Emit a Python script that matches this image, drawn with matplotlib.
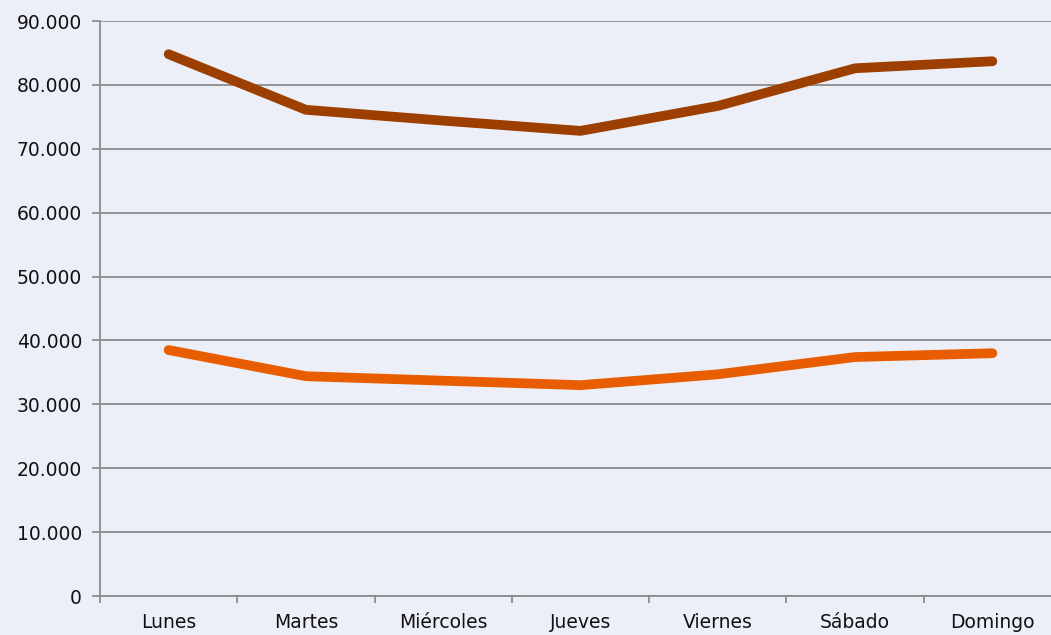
import numpy as np
import matplotlib
matplotlib.use("Agg")
import matplotlib.pyplot as plt
from matplotlib.ticker import FuncFormatter, FixedLocator

dias = ["Lunes", "Martes", "Miércoles", "Jueves", "Viernes", "Sábado", "Domingo"]
serie_alta = [84800, 76100, 74400, 72800, 76700, 82600, 83700]
serie_baja = [38500, 34400, 33700, 33000, 34700, 37400, 38000]

fondo = "#ECEFF7"
gris = "#8C8C8C"

fig = plt.figure(figsize=(10.51, 6.35), dpi=100, facecolor=fondo)
# el eje se sale por la derecha como en el original
ax = fig.add_axes([100/1051, 39/635, 961/1051, 575/635])
ax.set_facecolor(fondo)

x = np.arange(len(dias))
ax.plot(x, serie_alta, color="#9C3F00", lw=7, solid_capstyle="round", solid_joinstyle="round", zorder=3)
ax.plot(x, serie_baja, color="#E85D00", lw=7, solid_capstyle="round", solid_joinstyle="round", zorder=3)

ax.set_xlim(-0.5, len(dias) - 0.5)
ax.set_ylim(0, 90000)
ax.set_yticks(np.arange(0, 90001, 10000))
ax.yaxis.set_major_formatter(FuncFormatter(lambda v, p: "{:,.0f}".format(v).replace(",", ".")))
ax.grid(axis="y", color=gris, lw=1.3, zorder=1)

ax.xaxis.set_major_locator(FixedLocator(np.arange(-0.5, len(dias), 1.0)))
ax.xaxis.set_major_formatter(FuncFormatter(lambda v, p: ""))
ax.set_xticks(x, minor=True)
ax.set_xticklabels(dias, minor=True)
ax.tick_params(axis="x", which="minor", length=0, pad=12, labelsize=13.5, labelcolor="#111111")
ax.tick_params(axis="x", which="major", length=5, width=1.3, color=gris)
ax.tick_params(axis="y", length=6, width=1.3, color=gris, pad=7, labelsize=13.5, labelcolor="#111111")

for s in ["top", "right"]:
    ax.spines[s].set_visible(False)
for s in ["left", "bottom"]:
    ax.spines[s].set_color(gris)
    ax.spines[s].set_linewidth(1.3)

fig.savefig("out.png", dpi=100, facecolor=fondo)
